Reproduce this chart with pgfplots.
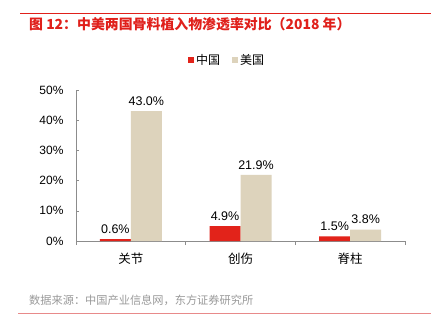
\documentclass[border=0pt]{standalone}
\usepackage{fontspec}
\setmainfont{Liberation Sans}
\newfontfamily\cjk{Noto Sans CJK SC}
\usepackage{pgfplots}
\pgfplotsset{compat=1.18}
\definecolor{cnred}{HTML}{E2231A}
\definecolor{usbeige}{HTML}{DDD3BC}
\definecolor{titred}{HTML}{E0201B}
\definecolor{linered}{HTML}{E88A8A}
\definecolor{axgray}{HTML}{8C8C8C}
\definecolor{srcgray}{HTML}{9A9A9A}
\begin{document}
\begin{tikzpicture}
\fill[white] (0pt,0pt) rectangle (444pt,330pt);
\node[anchor=west,text=titred,inner sep=0pt,font={\cjk\fontsize{13.9}{16}\selectfont\bfseries}] at (29pt,306pt) {图 12：中美两国骨料植入物渗透率对比（2018 年）};
\node[anchor=west,text=srcgray,inner sep=0pt,font={\cjk\fontsize{11.2}{13}\selectfont}] at (29pt,30pt) {数据来源：中国产业信息网，东方证券研究所};
\fill[titred] (20pt,315.5pt) rectangle (431pt,316.6pt);
\fill[linered] (18pt,16pt) rectangle (431pt,17.2pt);
\begin{axis}[
  at={(76pt,89pt)}, anchor=south west,
  scale only axis, width=329pt, height=151pt,
  xmin=-0.5, xmax=2.5, ymin=0, ymax=50,
  axis x line=bottom, axis y line=left,
  axis line style={axgray,line width=0.8pt,-},
  xtick={0,1,2}, xticklabels={关节,创伤,脊柱},
  x tick label style={font={\cjk\fontsize{12.5}{14}\selectfont},yshift=-5pt},
  major x tick style={draw=none},
  minor xtick={-0.5,0.5,1.5,2.5},
  minor tick length=4pt,
  minor x tick style={axgray,line width=0.6pt},
  ytick={0,10,20,30,40,50},
  yticklabel={\pgfmathprintnumber{\tick}\%},
  y tick label style={font=\fontsize{12}{14}\selectfont,xshift=-9pt},
  /pgf/number format/assume math mode=true,
  major tick length=3pt,
  y tick style={axgray,line width=0.6pt},
  tick align=inside,
  ybar, bar width=31pt,
  nodes near coords={\pgfmathprintnumber[fixed,fixed zerofill,precision=1]{\pgfplotspointmeta}\%},
  every node near coord/.append style={font=\fontsize{12.5}{14}\selectfont,text=black,yshift=2pt},
  legend style={at={(0.459,1.2)},anchor=center,draw=none,fill=none,
    font={\cjk\fontsize{12}{14}\selectfont},legend columns=2,
    /tikz/every even column/.append style={column sep=10pt}},
  legend image code/.code={\fill[#1,draw=none] (0pt,-3pt) rectangle (6pt,3pt);},
  clip=false,
]
\addplot[fill=cnred,draw=none,bar shift=-15.5pt] coordinates {(0,0.6) (1,4.9) (2,1.5)};
\addplot[fill=usbeige,draw=none,bar shift=15.5pt] coordinates {(0,43.0) (1,21.9) (2,3.8)};
\legend{中国,美国}
\end{axis}
\end{tikzpicture}
\end{document}
